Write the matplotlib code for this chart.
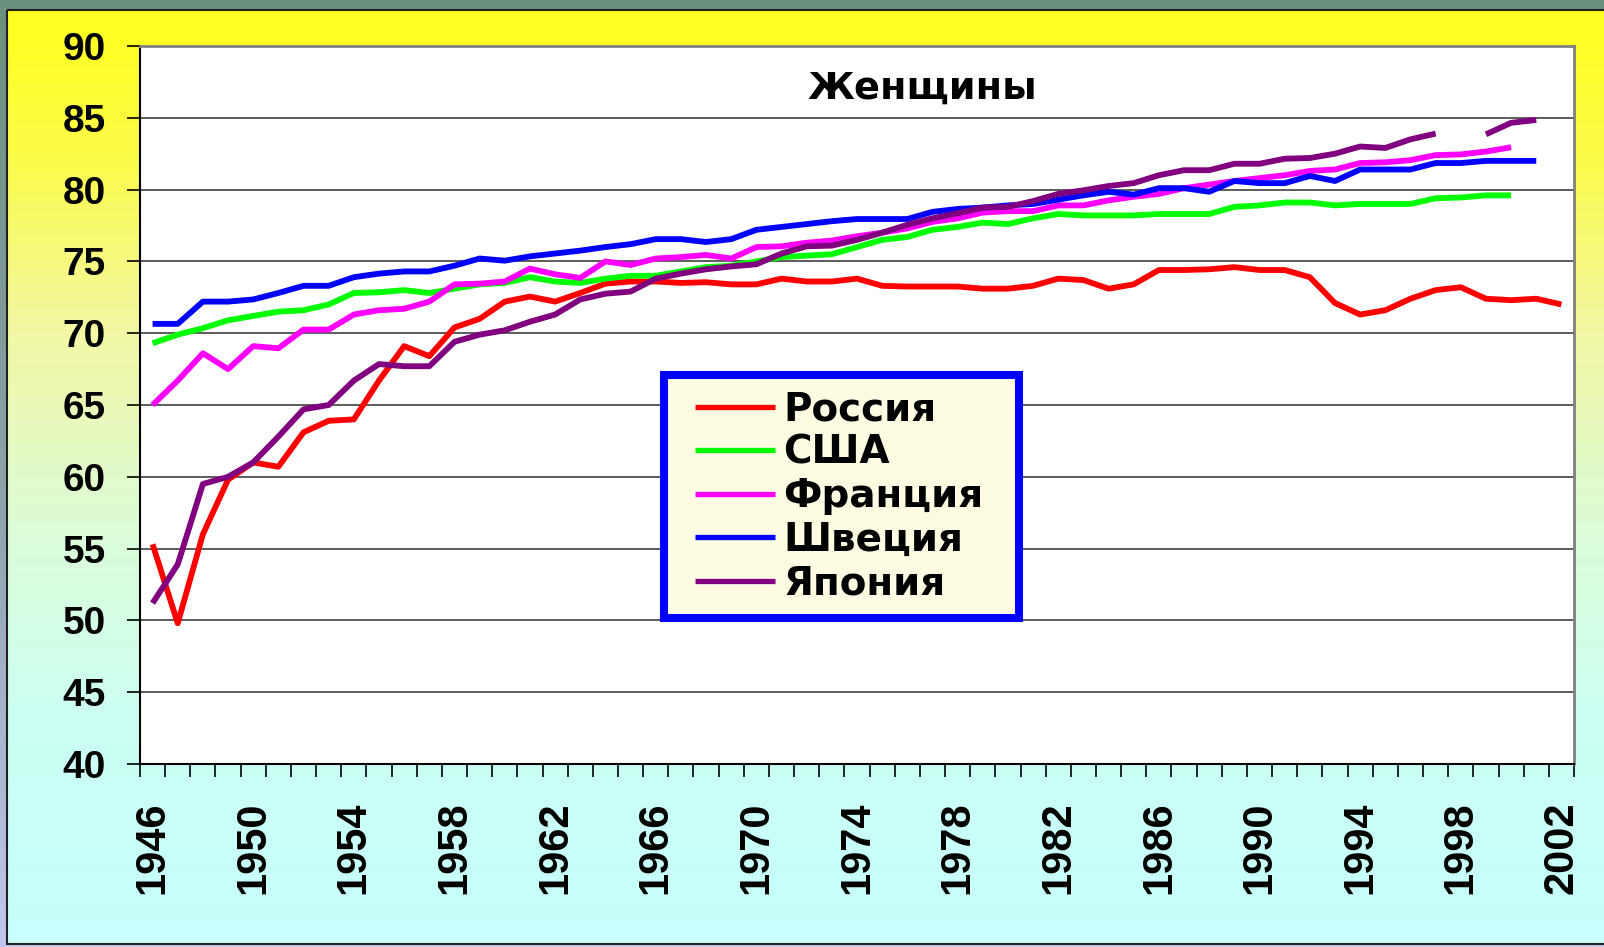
import numpy as np
import matplotlib
matplotlib.use('Agg')
import matplotlib.pyplot as plt
from matplotlib.colors import LinearSegmentedColormap
from matplotlib.patches import Rectangle

plt.rcParams['font.family'] = ['Liberation Sans', 'DejaVu Sans']
plt.rcParams['font.weight'] = 'bold'

years = list(range(1946, 2003))
label_years = list(range(1946, 2003, 4))

russia = [55.3, 49.8, 56.0, 59.8, 61.0, 60.7, 63.1, 63.9, 64.0, 66.7,
          69.1, 68.4, 70.4, 71.0, 72.2, 72.55, 72.2, 72.8, 73.45, 73.6,
          73.6, 73.5, 73.55, 73.4, 73.4, 73.8, 73.6, 73.6, 73.8, 73.3,
          73.25, 73.25, 73.25, 73.1, 73.1, 73.3, 73.8, 73.7, 73.1, 73.4,
          74.4, 74.4, 74.45, 74.6, 74.4, 74.4, 73.9, 72.1, 71.3, 71.6,
          72.4, 73.0, 73.2, 72.4, 72.3, 72.4, 72.0]
usa = [69.3, 69.9, 70.35, 70.9, 71.2, 71.5, 71.6, 72.0, 72.8, 72.85,
       73.0, 72.8, 73.1, 73.4, 73.5, 73.9, 73.6, 73.5, 73.8, 74.0,
       74.0, 74.3, 74.6, 74.7, 75.0, 75.3, 75.4, 75.5, 76.0, 76.5,
       76.7, 77.2, 77.4, 77.7, 77.6, 78.0, 78.3, 78.2, 78.2, 78.2,
       78.3, 78.3, 78.3, 78.8, 78.9, 79.1, 79.1, 78.9, 79.0, 79.0,
       79.0, 79.4, 79.45, 79.6, 79.6, None, None]
france = [65.0, 66.7, 68.6, 67.5, 69.1, 68.95, 70.25, 70.25, 71.3, 71.6,
          71.7, 72.2, 73.4, 73.45, 73.6, 74.5, 74.1, 73.85, 75.0, 74.75,
          75.2, 75.3, 75.45, 75.2, 76.0, 76.05, 76.3, 76.45, 76.75, 77.0,
          77.3, 77.75, 78.0, 78.4, 78.5, 78.5, 78.9, 78.9, 79.25, 79.5,
          79.7, 80.1, 80.35, 80.6, 80.8, 81.0, 81.3, 81.4, 81.85, 81.9,
          82.05, 82.4, 82.45, 82.65, 82.95, None, None]
sweden = [70.65, 70.65, 72.2, 72.2, 72.35, 72.8, 73.3, 73.3, 73.9, 74.15,
          74.3, 74.3, 74.7, 75.2, 75.05, 75.35, 75.55, 75.75, 76.0, 76.2,
          76.55, 76.55, 76.35, 76.55, 77.2, 77.4, 77.6, 77.8, 77.95, 77.95,
          77.95, 78.45, 78.65, 78.75, 78.9, 79.0, 79.3, 79.6, 79.85, 79.65,
          80.1, 80.1, 79.85, 80.6, 80.45, 80.45, 80.95, 80.6, 81.4, 81.4,
          81.4, 81.85, 81.85, 82.0, 82.0, 82.0, None]
japan = [51.2, 53.9, 59.5, 60.0, 61.0, 62.8, 64.7, 65.0, 66.7, 67.85,
         67.7, 67.7, 69.4, 69.9, 70.2, 70.8, 71.3, 72.35, 72.75, 72.9,
         73.8, 74.15, 74.45, 74.65, 74.8, 75.55, 76.05, 76.1, 76.5, 77.0,
         77.55, 78.0, 78.35, 78.75, 78.8, 79.2, 79.7, 79.95, 80.25, 80.45,
         81.0, 81.35, 81.35, 81.8, 81.8, 82.15, 82.2, 82.5, 83.0, 82.9,
         83.5, 83.9, None, 83.85, 84.65, 84.85, None]

series = [('Россия', russia, '#ff0000'),
          ('США', usa, '#00ff00'),
          ('Франция', france, '#ff00ff'),
          ('Швеция', sweden, '#0000ff'),
          ('Япония', japan, '#800080')]

W, H = 1604, 947
fig = plt.figure(figsize=(W / 100, H / 100), dpi=100)

# background: outer strip + yellow/cyan gradient panel
bg = fig.add_axes([0, 0, 1, 1], zorder=-10)
bg.set_xlim(0, W)
bg.set_ylim(H, 0)
bg.axis('off')
outer = LinearSegmentedColormap.from_list('outer', ['#6b8f7d', '#8aa2a8', '#c2c6ee'])
bg.imshow(np.linspace(0, 1, 256).reshape(-1, 1), cmap=outer, aspect='auto',
          extent=(0, W, H, 0), origin='upper')
panel = LinearSegmentedColormap.from_list('panel', [
    (0.0, '#ffff1e'), (0.15, '#fcfc48'), (0.35, '#f2f8a6'),
    (0.55, '#dcfcd6'), (0.75, '#ccfff2'), (1.0, '#c6fffc')])
bg.imshow(np.linspace(0, 1, 256).reshape(-1, 1), cmap=panel, aspect='auto',
          extent=(7, W + 5, 944, 10), origin='upper')
bg.add_patch(Rectangle((7, 10), W, 934, fill=False, edgecolor='#202020', lw=1.5))

ax = fig.add_axes([140 / W, 1 - 764 / H, 1434 / W, 718 / H])
ax.set_facecolor('white')
x = np.arange(len(years))
for name, vals, col in series:
    ax.plot(x, np.array(vals, dtype=float), color=col, lw=4.2, label=name,
            solid_joinstyle='round', solid_capstyle='butt', zorder=3)

ax.set_xlim(-0.5, len(years) - 0.5)
ax.set_ylim(40, 90)
ax.set_yticks(range(40, 91, 5))
ax.set_yticklabels([str(v) for v in range(40, 91, 5)], fontsize=28, fontweight='bold')
ax.tick_params(axis='y', length=9.5, width=1.2, pad=15, color='black')
for v in range(45, 90, 5):
    ax.axhline(v, color='#303030', lw=1.1, zorder=1)

ax.set_xticks(np.arange(-0.5, len(years), 1.0))
ax.set_xticklabels([])
ax.tick_params(axis='x', which='major', length=9.5, width=1.2, color='black')
ax.set_xticks([years.index(y) for y in label_years], minor=True)
ax.set_xticklabels([str(y) for y in label_years], minor=True, rotation=90,
                   fontsize=30, fontweight='bold', va='top')
ax.tick_params(axis='x', which='minor', length=0, pad=27)

for s in ['left', 'bottom']:
    ax.spines[s].set_color('black')
    ax.spines[s].set_linewidth(1.5)
for s in ['top', 'right']:
    ax.spines[s].set_color('#808080')
    ax.spines[s].set_linewidth(2)

fs = 28
leg = ax.legend(loc='upper left', bbox_to_anchor=(0.3654, 0.2, 0.2476, 0.3418),
                mode='expand',
                prop={'family': 'DejaVu Sans', 'size': fs, 'weight': 'bold'},
                handlelength=2.45, handletextpad=0.22, labelspacing=0.14,
                borderpad=0.4, borderaxespad=0, fancybox=False, framealpha=1)
leg.get_frame().set_edgecolor('#0000ff')
leg.get_frame().set_linewidth(5.8)
leg.get_frame().set_facecolor('#fdfbe2')
leg.set_zorder(5)
for ln in leg.get_lines():
    ln.set_linewidth(3.8)
    xd = np.asarray(ln.get_xdata(), dtype=float)
    ln.set_xdata(np.linspace(xd[0] + 0.4 * fs, xd[-1], len(xd)))

fig.text(922 / W, 1 - 99 / H, 'Женщины', ha='center', va='baseline',
         family='DejaVu Sans', fontsize=27.5, fontweight='bold')

fig.savefig('out.png', dpi=100)
